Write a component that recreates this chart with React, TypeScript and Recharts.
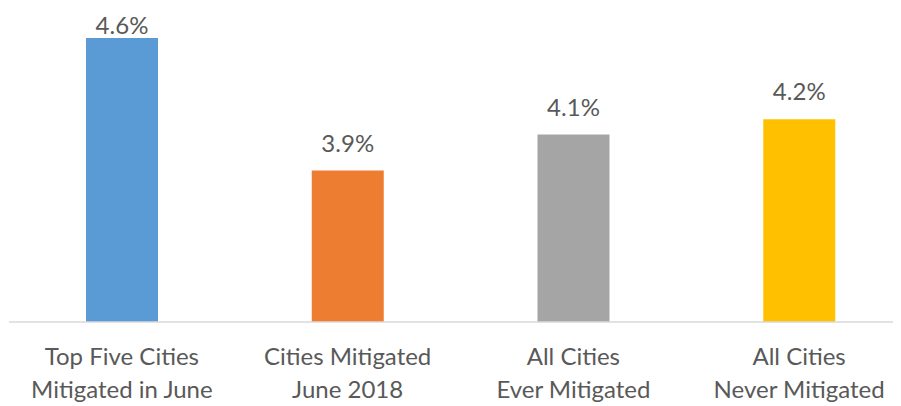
import React from 'react';
import { BarChart, Bar, XAxis, YAxis, Cell, LabelList } from 'recharts';

const categories = [
    'Top Five Cities\nMitigated in June',
    'Cities Mitigated\nJune 2018',
    'All Cities\nEver Mitigated',
    'All Cities\nNever Mitigated',
];
const rates = [4.6, 3.9, 4.09, 4.17];
const barColors = ['#5B9BD5', '#ED7D31', '#A5A5A5', '#FFC000'];

const data = categories.map((name, i) => ({ name, rate: rates[i] }));

const textColor = '#595959';
const fontFamily = 'Lato, "Open Sans", sans-serif';

const CategoryTick = (props: any) => {
    const { x, y, payload } = props;
    const lines = String(payload.value).split('\n');
    return (
        <text x={x} y={y} textAnchor="middle" fill={textColor} fontSize={24} fontFamily={fontFamily}>
            {lines.map((line, i) => (
                <tspan key={i} x={x} dy={i === 0 ? 43 : 33}>
                    {line}
                </tspan>
            ))}
        </text>
    );
};

const ValueLabel = (props: any) => {
    const { x, y, width, value } = props;
    // Excel nudges the tallest label down so it stays inside the chart area
    const baseline = Math.max(y - 19, 26);
    return (
        <text x={x + width / 2} y={baseline} textAnchor="middle" fill={textColor} fontSize={24} fontFamily={fontFamily}>
            {Number(value).toFixed(1)}%
        </text>
    );
};

const App: React.FC = () => {
    return (
        <div style={{ width: 893, overflow: 'hidden' }}>
            <BarChart width={904} height={398} data={data} margin={{ top: 11, right: 0, left: 1, bottom: 0 }}>
                <XAxis
                    dataKey="name"
                    stroke="#D9D9D9"
                    strokeWidth={1.5}
                    tickLine={false}
                    tickSize={0}
                    tickMargin={0}
                    height={84}
                    interval={0}
                    tick={<CategoryTick />}
                />
                <YAxis hide domain={[3.1, 4.7]} allowDataOverflow />
                <Bar dataKey="rate" barSize={72} isAnimationActive={false}>
                    {data.map((_, i) => (
                        <Cell key={i} fill={barColors[i]} />
                    ))}
                    <LabelList dataKey="rate" content={<ValueLabel />} />
                </Bar>
            </BarChart>
        </div>
    );
};

export default App;
